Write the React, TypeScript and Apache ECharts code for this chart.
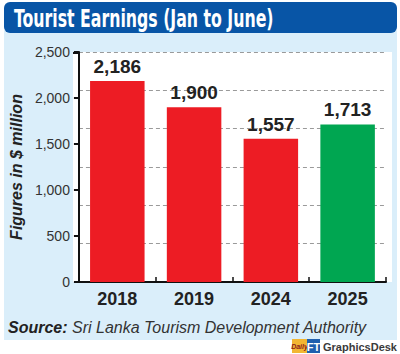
import React, { useEffect, useRef } from "react";
import * as echarts from "echarts";

const categories = ["2018", "2019", "2024", "2025"];
const values = [2186, 1900, 1557, 1713];
const barColors = ["#ED1C24", "#ED1C24", "#ED1C24", "#00A651"];
const yTicks = [0, 500, 1000, 1500, 2000, 2500];
const titleText = "Tourist Earnings (Jan to June)";
const yName = "Figures in $ million";
const sourceLabel = "Source:";
const sourceText = " Sri Lanka Tourism Development Authority";

const COND = "'DejaVu Sans Condensed', sans-serif";
const SANS = "'Liberation Sans', Arial, sans-serif";

export default function App() {
  const ref = useRef<HTMLDivElement>(null);
  useEffect(() => {
    if (!ref.current) return;
    const chart = echarts.init(ref.current, null, { renderer: "svg" });
    const option = {
      animation: false,
      backgroundColor: "#ffffff",
      grid: { left: 73, right: 14, top: 52, bottom: 72, containLabel: false },
      graphic: [
        { type: "rect", z: -10, shape: { x: 4, y: 30, width: 393, height: 310 }, style: { fill: "#DAEEFA" } },
        { type: "rect", z: -9, shape: { x: 4, y: 2, width: 393, height: 31, r: 6 }, style: { fill: "#0855A6" } },
        { type: "rect", z: -8, shape: { x: 73, y: 52, width: 319, height: 230 }, style: { fill: "#ffffff" } },
        {
          type: "text", z: 10, x: 14, y: 18, scaleX: 0.73,
          style: { text: titleText, fill: "#ffffff", font: `bold 24px ${COND}`, verticalAlign: "middle" },
        },
        { type: "line", z: 10, shape: { x1: 73, y1: 53, x2: 80, y2: 53 }, style: { stroke: "#111", lineWidth: 2 } },
        {
          type: "text", z: 10, x: 8, y: 327,
          style: {
            text: `{b|${sourceLabel}}{n|${sourceText}}`,
            verticalAlign: "middle",
            rich: {
              b: { font: `italic bold 16px ${SANS}`, fill: "#222" },
              n: { font: `italic 16px ${SANS}`, fill: "#333" },
            },
          },
        },
        { type: "rect", z: 10, shape: { x: 292, y: 339, width: 15, height: 14 }, style: { fill: "#F2B632" } },
        {
          type: "text", z: 11, x: 299.5, y: 346,
          style: { text: "Daily", fill: "#8B1A1A", font: `italic bold 7px ${SANS}`, align: "center", verticalAlign: "middle" },
        },
        { type: "rect", z: 10, shape: { x: 307, y: 339, width: 13, height: 14 }, style: { fill: "#1F5FAE" } },
        {
          type: "text", z: 11, x: 313.5, y: 346.5,
          style: { text: "FT", fill: "#ffffff", font: `bold 11px ${SANS}`, align: "center", verticalAlign: "middle" },
        },
        {
          type: "text", z: 11, x: 323, y: 346.5,
          style: { text: "GraphicsDesk", fill: "#3a3a3a", font: `bold 11px ${SANS}`, verticalAlign: "middle" },
        },
      ],
      xAxis: {
        type: "category",
        data: categories,
        boundaryGap: true,
        axisLine: { show: true, lineStyle: { color: "#111", width: 2 } },
        axisTick: { show: true, inside: true, length: 5, alignWithLabel: false, lineStyle: { color: "#111", width: 1.5 } },
        axisLabel: { color: "#222", fontSize: 18, fontWeight: "bold", fontFamily: SANS, margin: 8 },
      },
      yAxis: [
        {
          type: "value",
          min: yTicks[0],
          max: yTicks[yTicks.length - 1],
          interval: 500,
          name: yName,
          nameLocation: "middle",
          nameRotate: 90,
          nameGap: 48,
          nameTextStyle: { color: "#222", fontSize: 16, fontStyle: "italic", fontWeight: "bold", fontFamily: SANS },
          axisLine: { show: true, lineStyle: { color: "#111", width: 2 } },
          axisTick: { show: true, inside: false, length: 5, lineStyle: { color: "#111", width: 2 } },
          axisLabel: {
            color: "#333", fontSize: 14, fontFamily: SANS, margin: 9,
            formatter: (v: number) => v.toLocaleString("en-US"),
          },
          splitLine: { show: false },
        },
        {
          type: "value",
          min: 0,
          max: 5.999,
          interval: 1,
          show: true,
          axisLine: { show: false },
          axisTick: { show: false },
          axisLabel: { show: false },
          splitLine: { show: true, lineStyle: { color: "#9a9a9a", width: 1, type: [4, 3] } },
        },
      ],
      series: [
        {
          type: "bar",
          yAxisIndex: 0,
          barWidth: "71%",
          data: values.map((v, i) => ({ value: v, itemStyle: { color: barColors[i] } })),
          label: {
            show: true,
            position: "top",
            distance: 5,
            color: "#222",
            fontSize: 19,
            fontWeight: "bold",
            fontFamily: SANS,
            formatter: (p: any) => Number(p.value).toLocaleString("en-US"),
          },
          z: 3,
        },
      ],
    };
    chart.setOption(option as any);
    return () => chart.dispose();
  }, []);
  return <div ref={ref} style={{ width: 400, height: 354, position: "absolute", left: 0, top: 0 }} />;
}
